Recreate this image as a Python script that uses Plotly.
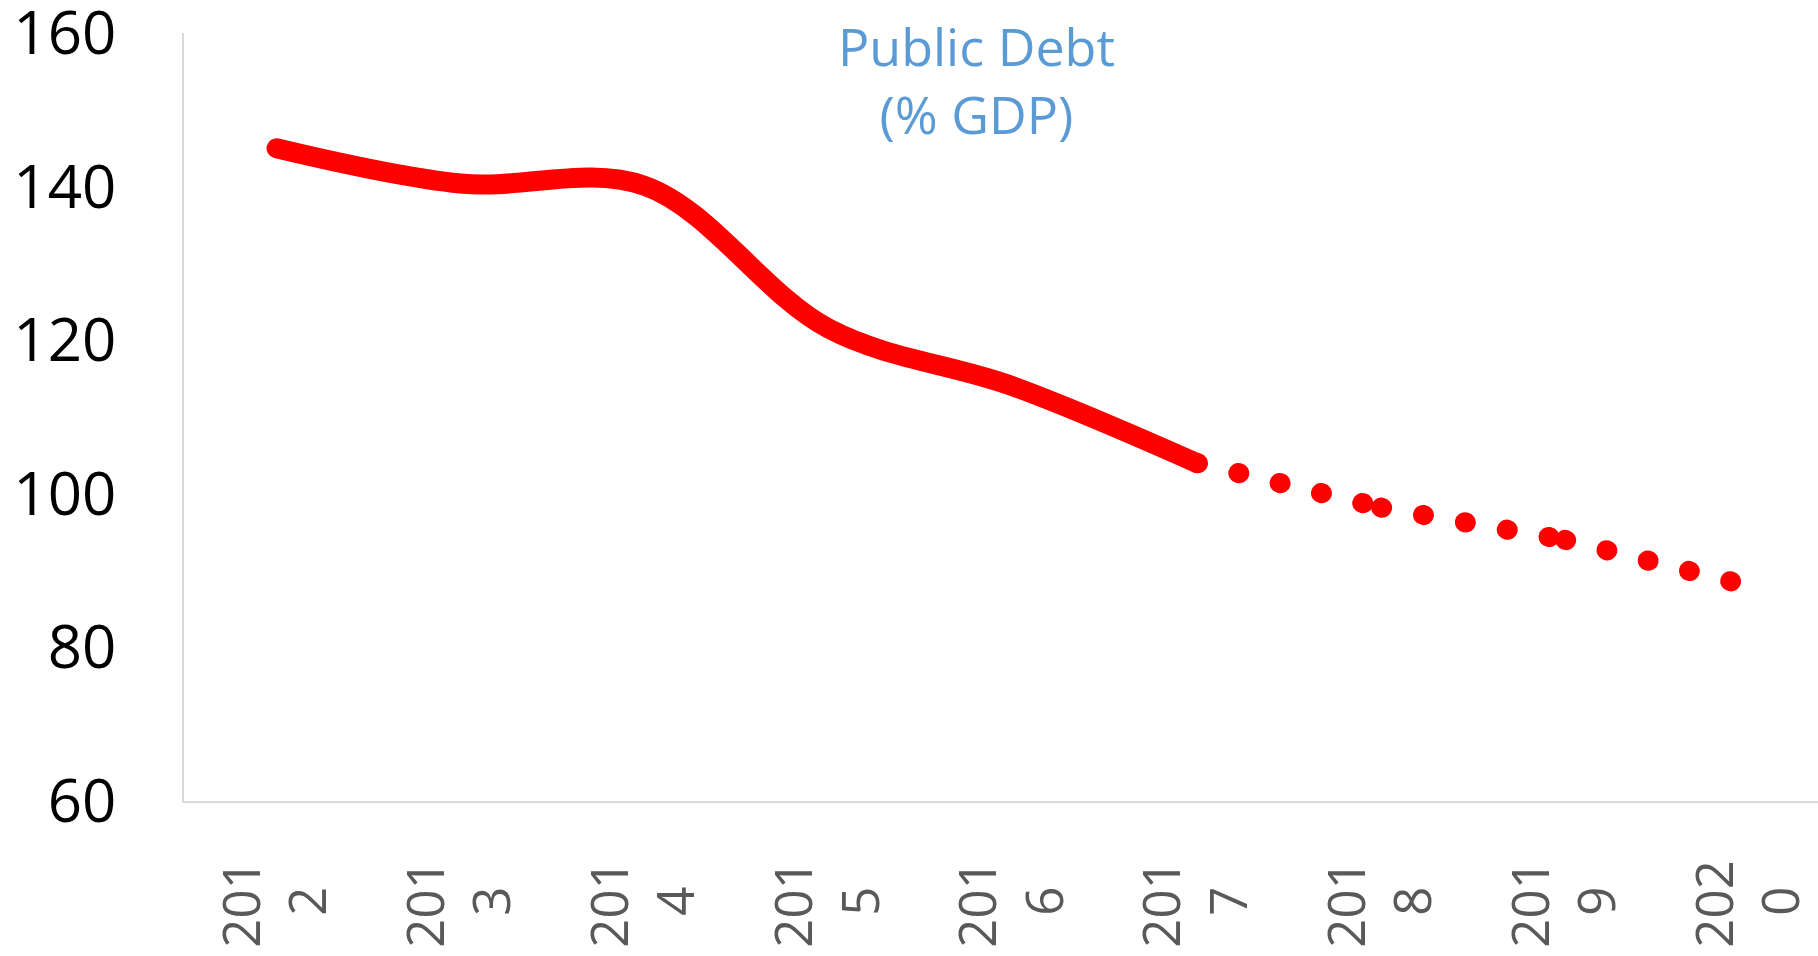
import plotly.graph_objects as go

years = [2012, 2013, 2014, 2015, 2016, 2017, 2018, 2019, 2020]
NB = "\u00a0\u00a0"
tick_labels = ["201<br>2" + NB, "201<br>3" + NB, "201<br>4" + NB, "201<br>5" + NB,
               "201<br>6" + NB, "201<br>7" + NB, "201<br>8" + NB, "201<br>9" + NB,
               "202<br>0" + NB]
y_ticks = [60, 80, 100, 120, 140, 160]
actual_years = [2012, 2013, 2014, 2015, 2016, 2017]
actual_debt = [145.0, 140.4, 140.1, 121.5, 114.0, 104.0]
proj_years = [2017, 2018, 2019, 2020]
proj_debt = [104.0, 98.2, 94.0, 88.0]

RED = "#FF0000"
fig = go.Figure()
fig.add_trace(go.Scatter(
    x=actual_years, y=actual_debt, mode="lines",
    line=dict(color=RED, width=20, shape="spline", smoothing=1.0),
    showlegend=False, hoverinfo="x+y"))
for i in range(len(proj_years) - 1):
    fig.add_trace(go.Scatter(
        x=proj_years[i:i + 2], y=proj_debt[i:i + 2], mode="lines",
        line=dict(color=RED, width=20, dash="1px,41.5px"),
        showlegend=False, hoverinfo="x+y"))

fig.add_annotation(
    text="Public Debt<br>(% GDP)", xref="paper", yref="paper",
    x=(976 - 184) / 1634, y=(801 - 79) / 768, xanchor="center", yanchor="middle",
    showarrow=False, font=dict(family="Open Sans", size=52, color="#5B9BD5"))

fig.update_layout(
    width=1818, height=956,
    margin=dict(l=184, r=0, t=33, b=155, autoexpand=False),
    paper_bgcolor="white", plot_bgcolor="white",
    font=dict(family="Open Sans"),
    xaxis=dict(range=[2011.4975, 2020.373], tickmode="array", tickvals=years,
               ticktext=tick_labels, tickangle=-90, showgrid=False, zeroline=False,
               showline=True, linecolor="#D9D9D9", linewidth=1.5, ticks="",
               automargin=False, ticklabeloverflow="allow",
               tickfont=dict(family="Open Sans", size=51, color="#595959"),
               ticklabelstandoff=37),
    yaxis=dict(range=[60, 160], tickmode="array", tickvals=y_ticks,
               showgrid=False, zeroline=False, automargin=False,
               ticklabeloverflow="allow",
               showline=True, linecolor="#D9D9D9", linewidth=1.5, ticks="",
               tickfont=dict(family="Open Sans", size=60, color="#000000"),
               ticklabelstandoff=54),
)

post = ("var s=document.createElement('style');"
        "s.innerHTML='html,body{margin:0;padding:0;overflow:hidden;}"
        ".scatterlayer .js-line{stroke-linecap:round;stroke-linejoin:round;}';"
        "document.head.appendChild(s);")
fig.write_html("out.html", post_script=post, config={"displayModeBar": False})
